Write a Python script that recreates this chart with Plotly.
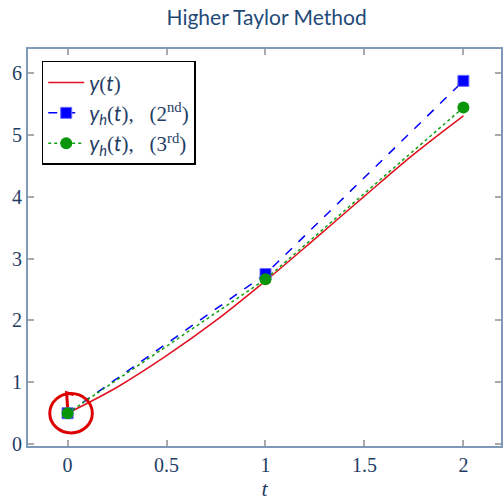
import plotly.graph_objects as go

# exact solution samples
t_exact = [0.0, 0.25, 0.5, 0.75, 1.0, 1.25, 1.5, 1.75, 2.0]
y_exact = [0.5, 0.92, 1.43, 2.00, 2.64, 3.32, 4.01, 4.69, 5.31]

# Taylor method nodes
t_nodes = [0, 1, 2]
y_taylor2 = [0.5, 2.75, 5.875]
y_taylor3 = [0.5, 2.667, 5.444]

x_ticks = [0, 0.5, 1, 1.5, 2]
x_ticklabels = ["0", "0.5", "1", "1.5", "2"]
y_ticks = [0, 1, 2, 3, 4, 5, 6]

S = "<span style='font-family:Liberation Serif'>"
E = "</span>"
names = [f"<i>y</i>{S}({E}<i>t</i>{S}){E}",
         f"<i>y<sub>h</sub></i>{S}({E}<i>t</i>{S}),&nbsp;&nbsp;&nbsp;(2<sup>nd</sup>){E}",
         f"<i>y<sub>h</sub></i>{S}({E}<i>t</i>{S}),&nbsp;&nbsp;&nbsp;(3<sup>rd</sup>){E}"]

fig = go.Figure()
fig.add_trace(go.Scatter(x=t_exact, y=y_exact, mode="lines", name=names[0],
                         line=dict(color="#e0101e", width=1.5, shape="spline")))
fig.add_trace(go.Scatter(x=t_nodes, y=y_taylor2, mode="lines+markers", name=names[1],
                         line=dict(color="#0000ff", width=1.5, dash="dash"),
                         marker=dict(symbol="square", size=11, color="#0000ff",
                                     line=dict(color="#6a6aff", width=1))))
fig.add_trace(go.Scatter(x=t_nodes, y=y_taylor3, mode="lines+markers", name=names[2],
                         line=dict(color="#10a010", width=1.5, dash="dot"),
                         marker=dict(symbol="circle", size=12, color="#0a960a")))

axis_col = "#7f9ab8"
tick_font = dict(family="Liberation Serif", size=20, color="#1f3d66")

fig.update_layout(
    width=503, height=501,
    margin=dict(l=28, r=0, t=49, b=53),
    paper_bgcolor="white", plot_bgcolor="white",
    title=dict(text="Higher Taylor Method", x=0.53, xanchor="center", y=0.965, yanchor="middle",
               font=dict(family="Lato", size=21, color="#1f4a78")),
    showlegend=True,
    legend=dict(x=0.029, y=0.97, xanchor="left", yanchor="top",
                bgcolor="white", bordercolor="black", borderwidth=1.5,
                font=dict(family="Lato", size=21, color="#1f3d66"),
                itemwidth=36, tracegroupgap=0),
    xaxis=dict(range=[-0.2, 2.19], tickvals=x_ticks, ticktext=x_ticklabels,
               showgrid=False, zeroline=False, showline=True, linecolor=axis_col, linewidth=2,
               mirror="allticks", ticks="inside", ticklen=6, tickcolor="#aaaaaa", tickwidth=1.5,
               tickfont=tick_font,
               title=dict(text="<i>t</i>", font=dict(family="Liberation Serif", size=22, color="#1f3d66"),
                          standoff=10)),
    yaxis=dict(range=[-0.03, 6.39], tickvals=y_ticks,
               showgrid=False, zeroline=False, showline=True, linecolor=axis_col, linewidth=2,
               mirror="allticks", ticks="inside", ticklen=6, tickcolor="#aaaaaa", tickwidth=1.5,
               tickfont=tick_font),
)

# hand-drawn red circle annotation around the initial point
fig.add_shape(type="circle", xref="x", yref="y", x0=-0.09, x1=0.125, y0=0.18, y1=0.82,
              line=dict(color="#dd0000", width=3))
fig.add_shape(type="path", xref="x", yref="y",
              path="M 0.0,0.6 L -0.005,0.83 L 0.03,0.8",
              line=dict(color="#dd0000", width=3))

fig.write_html("out.html")
